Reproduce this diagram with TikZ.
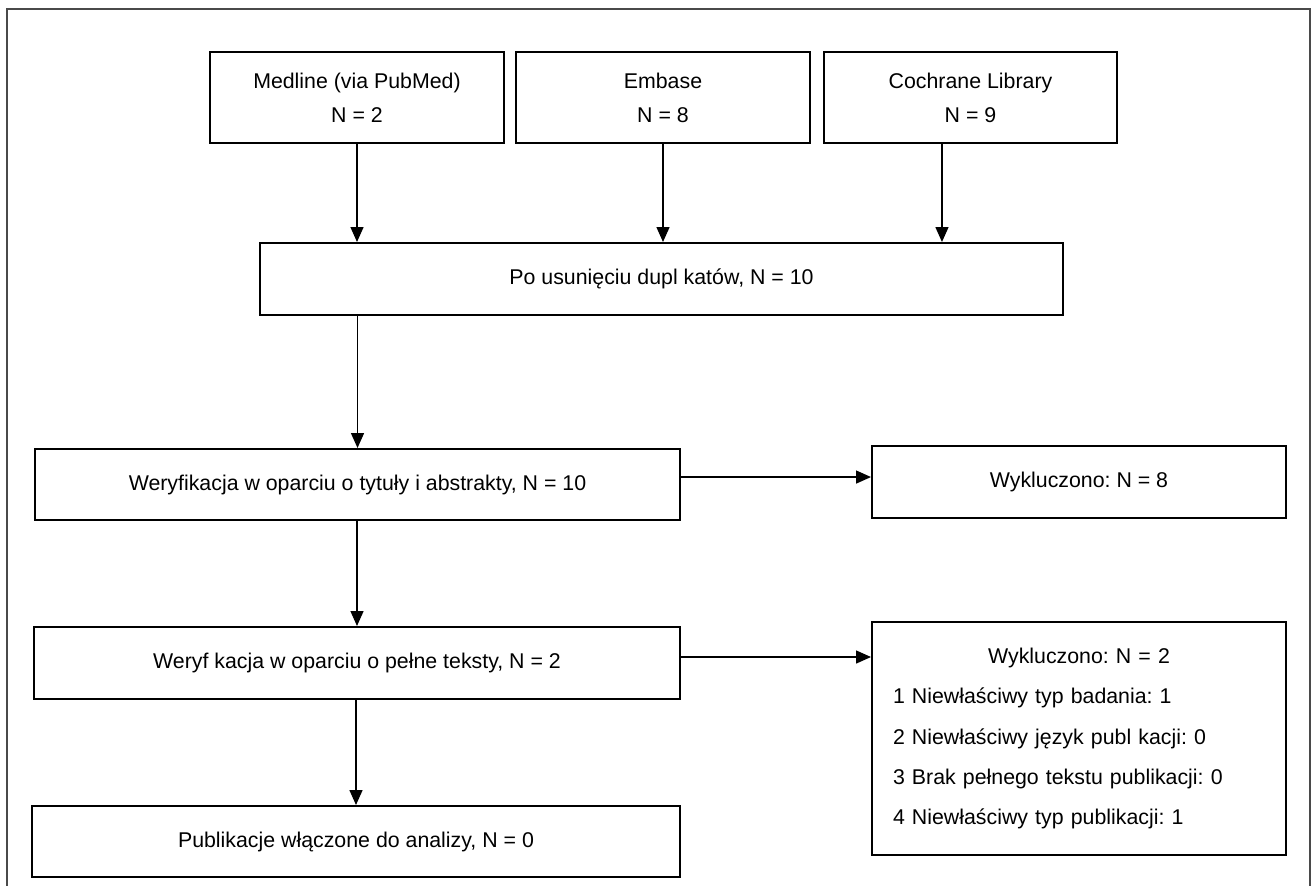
\documentclass[tikz,border=0pt]{standalone}
\usepackage{fontspec}
\setmainfont{Liberation Sans}
\usetikzlibrary{arrows.meta}
\definecolor{framec}{HTML}{4A4A4A}
\tikzset{
  box/.style={draw=black, line width=1.5pt, inner sep=0pt, align=center,
    font=\fontsize{16pt}{25.5pt}\selectfont},
  arr/.style={draw=black, line width=1.1pt, -{Triangle[length=11.25pt,width=9.75pt]}},
}
\frenchspacing
\begin{document}
\begin{tikzpicture}[x=0.75pt,y=-0.75pt]
\useasboundingbox (0,0) rectangle (1312,885);
\draw[framec, line width=1.5pt] (7,890) -- (7,9) -- (1310,9) -- (1310,890);

\node[box, minimum width=220.5pt, minimum height=68.25pt] (med) at (357,97.5) {Medline (via PubMed)\\N = 2};
\node[box, minimum width=220.5pt, minimum height=68.25pt] (emb) at (663,97.5) {Embase\\N = 8};
\node[box, minimum width=219.75pt, minimum height=68.25pt] (coc) at (970.5,97.5) {Cochrane Library\\N = 9};
\node[box, minimum width=602.25pt, minimum height=54pt] (dup) at (661.5,279) {Po usunięciu dupl katów, N = 10};
\node[box, minimum width=483.75pt, minimum height=53.25pt] (w1) at (357.5,484.5) {Weryfikacja w oparciu o tytuły i abstrakty, N = 10};
\node[box, minimum width=310.5pt, minimum height=54pt] (x1) at (1079,482) {Wykluczono: N = 8};
\node[box, minimum width=484.5pt, minimum height=54pt] (w2) at (357,663) {Weryf kacja w oparciu o pełne teksty, N = 2};
\node[box, minimum height=174.75pt, text width=279pt, inner xsep=15.75pt, align=left,
  font=\fontsize{16pt}{30.2pt}\selectfont] (x2) at (1079,738.5)
  {\makebox[279pt][c]{Wykluczono: N = 2}\\
   1 Niewłaściwy typ badania: 1\\
   2 Niewłaściwy język publ kacji: 0\\
   3 Brak pełnego tekstu publikacji: 0\\
   4 Niewłaściwy typ publikacji: 1};
\node[box, minimum width=486pt, minimum height=53.25pt] (pub) at (356,841.5) {Publikacje włączone do analizy, N = 0};

\draw[arr] (med.south) -- (med.south |- dup.north);
\draw[arr] (emb.south) -- (emb.south |- dup.north);
\draw[arr] ([xshift=-21.4pt]coc.south) -- ([xshift=-21.4pt]coc.south |- dup.north);
\draw[arr] ([xshift=0.01pt]w1.north |- dup.south) -- ([xshift=0.01pt]w1.north);
\draw[arr] ([yshift=5.6pt]w1.east) -- ([yshift=5.6pt]w1.east -| x1.west);
\draw[arr] (w1.south -| w2.north) -- (w2.north);
\draw[arr] ([yshift=4.5pt]w2.east) -- ([yshift=4.5pt]w2.east -| x2.west);
\draw[arr] (w2.south -| pub.north) -- (pub.north);
\end{tikzpicture}
\end{document}
